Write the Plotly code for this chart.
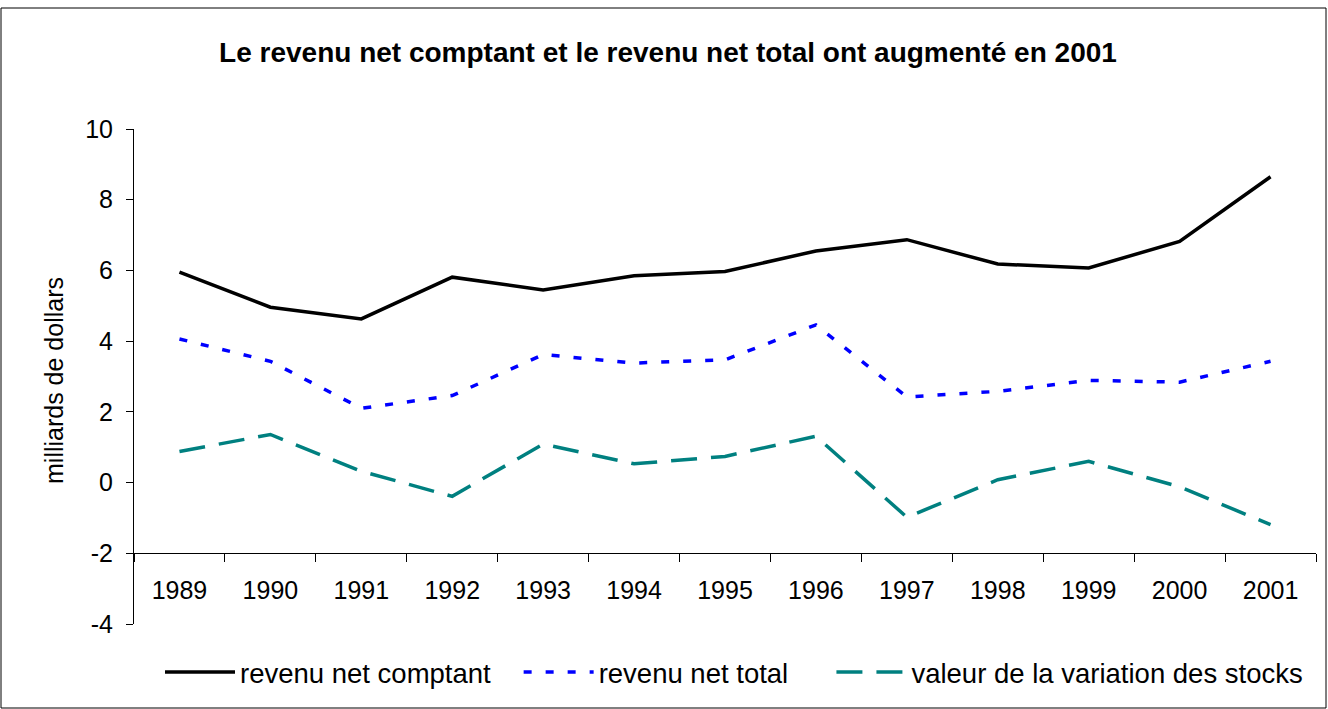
import plotly.graph_objects as go

years = ["1989", "1990", "1991", "1992", "1993", "1994", "1995", "1996", "1997", "1998", "1999", "2000", "2001"]
revenu_net_comptant = [5.95, 4.96, 4.63, 5.81, 5.45, 5.85, 5.97, 6.55, 6.87, 6.18, 6.07, 6.82, 8.65]
revenu_net_total = [4.06, 3.43, 2.10, 2.46, 3.62, 3.38, 3.47, 4.46, 2.42, 2.58, 2.89, 2.84, 3.43]
variation_stocks = [0.88, 1.36, 0.32, -0.39, 1.09, 0.53, 0.74, 1.31, -0.98, 0.08, 0.60, -0.12, -1.19]

y_ticks = [-4, -2, 0, 2, 4, 6, 8, 10]
y_tick_labels = ["-4", "-2", "0", "2", "4", "6", "8", "10"]

FONT = "Liberation Sans, Arial, sans-serif"
NB = "\u00a0"

fig = go.Figure()
fig.add_trace(go.Scatter(x=years, y=revenu_net_comptant, mode="lines", name="revenu net comptant" + NB * 3,
                         line=dict(color="#000000", width=3.5)))
fig.add_trace(go.Scatter(x=years, y=revenu_net_total, mode="lines", name="revenu net total" + NB * 5,
                         line=dict(color="#0000FF", width=3.5, dash="8px,14px")))
fig.add_trace(go.Scatter(x=years, y=variation_stocks, mode="lines", name="valeur de la variation des stocks",
                         line=dict(color="#008080", width=3.5, dash="26px,14px")))

L, R, T, B = 134, 12, 129, 85
W, H = 1328, 709
pw, ph = W - L - R, H - T - B

def px_x(px):
    return (px - L) / pw

def px_y(py):
    return (H - B - py) / ph

fig.update_layout(
    width=W, height=H,
    margin=dict(l=L, r=R, t=T, b=B),
    paper_bgcolor="white", plot_bgcolor="white",
    font=dict(family=FONT, color="black", size=24),
    title=dict(text="<b>Le revenu net comptant et le revenu net total ont augmenté en 2001</b>",
               x=0.503, xref="container", xanchor="center",
               y=1 - 52 / H, yref="container", yanchor="middle",
               font=dict(size=28, family=FONT, color="black")),
    showlegend=True,
    legend=dict(orientation="h", x=px_x(160), xanchor="left", y=px_y(672), yanchor="middle",
                font=dict(size=27.5, family=FONT, color="black"), itemwidth=70,
                bgcolor="rgba(0,0,0,0)", tracegroupgap=0),
    xaxis=dict(type="category", range=[-0.5, len(years) - 0.5], anchor="free", position=2 / 14, domain=[0, 1],
               showline=True, linecolor="black", linewidth=1,
               ticks="outside", tickson="boundaries", ticklen=8, tickcolor="black",
               showgrid=False, zeroline=False, tickfont=dict(size=25),
               ticklabelstandoff=15),
    yaxis=dict(range=[-4, 10], tickvals=y_ticks, ticktext=y_tick_labels, domain=[0, 1],
               showline=True, linecolor="black", linewidth=1,
               ticks="outside", ticklen=7, tickcolor="black",
               showgrid=False, zeroline=False, tickfont=dict(size=25),
               ticklabelstandoff=8),
    annotations=[dict(text="milliards de dollars", textangle=-90, x=px_x(54), y=px_y(381),
                      xref="paper", yref="paper", showarrow=False, xanchor="center", yanchor="middle",
                      font=dict(size=25, family=FONT, color="black"))],
    shapes=[dict(type="rect", xref="paper", yref="paper",
                 x0=px_x(1), x1=px_x(1326), y0=px_y(708), y1=px_y(8),
                 line=dict(color="black", width=1), fillcolor="rgba(0,0,0,0)", layer="below")],
)

fig.write_html("out.html")
